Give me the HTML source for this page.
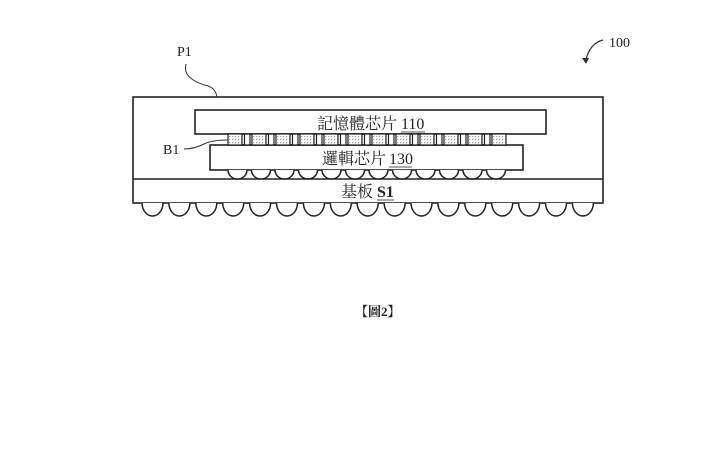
<!DOCTYPE html>
<html><head><meta charset="utf-8"><style>
html,body{margin:0;padding:0;background:#fff;}
svg{display:block;}
text{font-family:"Liberation Serif","Noto Serif CJK SC","Noto Sans CJK TC",serif;fill:#222;}
</style></head><body>
<svg width="720" height="470" viewBox="0 0 720 470" xmlns="http://www.w3.org/2000/svg">
<defs>
<pattern id="dots" width="3" height="3" patternUnits="userSpaceOnUse">
<rect width="3" height="3" fill="#fff"/><rect x="1" y="1" width="1.2" height="1.2" fill="#999"/>
</pattern>
</defs>
<g stroke="#222" stroke-width="1.6" fill="none">
<rect x="133" y="97" width="470" height="106" fill="#fff"/>
<line x1="133" y1="179" x2="603" y2="179"/>
<rect x="195" y="110" width="351" height="24" fill="#fff"/>
<rect x="210" y="145" width="313" height="25" fill="#fff"/>
<line x1="228" y1="134" x2="506" y2="134"/>
<line x1="228" y1="145" x2="506" y2="145"/>
</g>
<g stroke="#222" stroke-width="1.2">
<g id="cells">
</g>
</g>
<g id="bumps" stroke="#222" stroke-width="1.5" fill="#fff"></g>
<text x="317" y="129" font-size="16">記憶體芯片</text>
<text x="401" y="129" font-size="16">110</text>
<line x1="401" y1="132" x2="425" y2="132" stroke="#555" stroke-width="1"/>
<text x="322" y="164" font-size="16">邏輯芯片</text>
<text x="389" y="164" font-size="16">130</text>
<line x1="389" y1="167" x2="412" y2="167" stroke="#555" stroke-width="1"/>
<text x="341" y="197" font-size="16">基板</text>
<text x="377" y="197" font-size="16" font-weight="bold">S1</text>
<line x1="377" y1="200" x2="394" y2="200" stroke="#555" stroke-width="1"/>
<text x="177" y="56" font-size="14">P1</text>
<path d="M186 64 C 182 78, 200 84, 208 86 C 214 88, 216 92, 217 97" stroke="#333" stroke-width="1" fill="none"/>
<text x="163" y="154" font-size="14">B1</text>
<path d="M184 149 C 192 149, 198 147, 204 144 C 210 141, 218 140, 228 140" stroke="#333" stroke-width="1" fill="none"/>
<text x="609" y="47" font-size="14">100</text>
<path d="M603 40 C 594 42, 588 50, 586 60" stroke="#333" stroke-width="1.3" fill="none"/>
<path d="M582 58 L586 64 L589 58 Z" fill="#333"/>
<text x="355" y="316" font-size="13" font-weight="bold">【圖2】</text>
</svg>
<script>
(function(){
var ns="http://www.w3.org/2000/svg";
var c=document.getElementById('cells');
for(var i=0;i<12;i++){
 var x=228+i*24;
 var r=document.createElementNS(ns,'rect');
 r.setAttribute('x',x);r.setAttribute('y',134);r.setAttribute('width',14);r.setAttribute('height',11);
 r.setAttribute('fill','url(#dots)');c.appendChild(r);
 if(i<11){var w=document.createElementNS(ns,'rect');
 w.setAttribute('x',x+16.5);w.setAttribute('y',134);w.setAttribute('width',5.5);w.setAttribute('height',11);
 w.setAttribute('fill','#fff');c.appendChild(w);}
}
var b=document.getElementById('bumps');
for(var i=0;i<12;i++){
 var cx=237.5+i*23.5,r=9.5;
 var p=document.createElementNS(ns,'path');
 p.setAttribute('d','M'+(cx-r)+' 170 A '+r+' 9 0 0 0 '+(cx+r)+' 170');b.appendChild(p);
}
for(var i=0;i<17;i++){
 var cx=152.5+i*26.9,r=10.5;
 var p=document.createElementNS(ns,'path');
 p.setAttribute('d','M'+(cx-r)+' 203 A '+r+' 13 0 0 0 '+(cx+r)+' 203');b.appendChild(p);
}
})();
</script>
</body></html>
